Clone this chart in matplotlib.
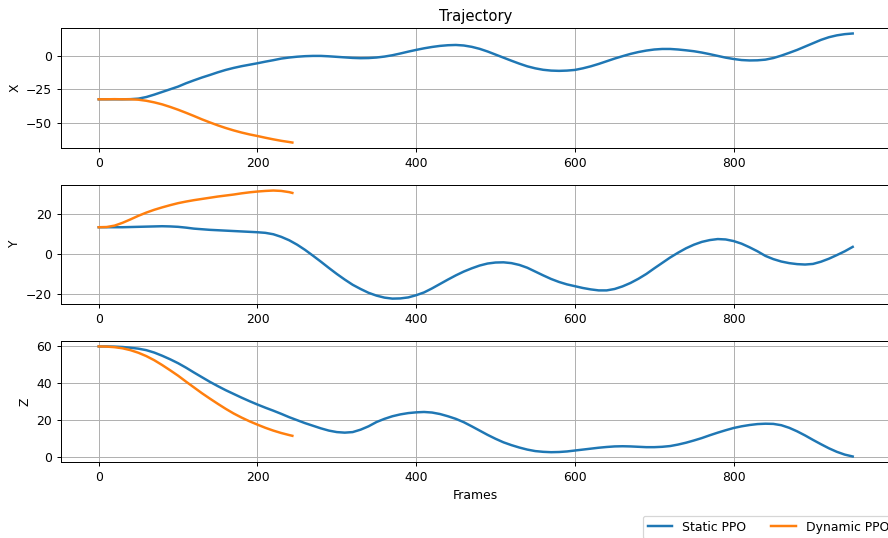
import numpy as np
import matplotlib
matplotlib.use("Agg")
import matplotlib.pyplot as plt

# ----------------------------------------------------------------
# Trajectory samples, one every 10 frames
# ----------------------------------------------------------------
static_frames = list(range(0, 951, 10))
static_x = [-32.5, -32.5, -32.5, -32.5, -32.4, -32.0, -30.8, -29.0, -27.0, -25.0,
            -23.0, -20.5, -18.3, -16.2, -14.3, -12.3, -10.5, -9.0, -7.7, -6.6,
            -5.5, -4.3, -3.2, -2.0, -1.2, -0.6, -0.2, 0.0, 0.0, -0.3,
            -0.7, -1.1, -1.5, -1.7, -1.6, -1.2, -0.5, 0.5, 1.8, 3.2,
            4.5, 5.7, 6.7, 7.5, 8.0, 8.2, 7.8, 6.8, 5.3, 3.3,
            1.0, -1.3, -3.6, -5.8, -7.8, -9.3, -10.4, -11.0, -11.2, -11.0,
            -10.5, -9.3, -7.8, -6.0, -4.0, -2.0, -0.2, 1.5, 2.9, 4.0,
            4.8, 5.2, 5.2, 4.8, 4.2, 3.5, 2.5, 1.3, 0.0, -1.3,
            -2.3, -3.1, -3.4, -3.3, -2.8, -1.6, 0.2, 2.3, 4.5, 7.0,
            9.5, 12.0, 14.0, 15.4, 16.3, 16.8]
static_y = [13.5, 13.5, 13.5, 13.5, 13.6, 13.7, 13.8, 13.9, 14.0, 13.9,
            13.7, 13.3, 12.8, 12.5, 12.2, 12.0, 11.8, 11.6, 11.4, 11.2,
            11.0, 10.7, 10.0, 8.7, 7.0, 4.8, 2.2, -0.7, -3.7, -6.8,
            -9.8, -12.6, -15.2, -17.3, -19.2, -20.6, -21.6, -22.1, -22.0, -21.5,
            -20.4, -19.0, -17.0, -14.8, -12.6, -10.5, -8.6, -7.0, -5.6, -4.6,
            -4.1, -4.0, -4.4, -5.3, -6.7, -8.6, -10.5, -12.3, -13.8, -15.0,
            -15.9, -16.8, -17.5, -18.0, -18.0, -17.3, -16.0, -14.3, -12.2, -9.8,
            -7.0, -4.3, -1.6, 0.8, 3.0, 4.8, 6.2, 7.1, 7.6, 7.4,
            6.6, 5.3, 3.5, 1.5, -0.8, -2.4, -3.6, -4.4, -4.9, -5.1,
            -4.8, -3.7, -2.2, -0.4, 1.5, 3.7]
static_z = [59.5, 59.5, 59.4, 59.2, 58.8, 58.3, 57.5, 56.2, 54.5, 52.6,
            50.5, 48.1, 45.5, 43.0, 40.5, 38.2, 36.0, 34.0, 32.0, 30.1,
            28.3, 26.6, 25.0, 23.3, 21.5, 19.9, 18.3, 16.9, 15.5, 14.3,
            13.5, 13.2, 13.5, 14.8, 16.6, 18.9, 20.6, 22.0, 23.0, 23.7,
            24.1, 24.3, 24.0, 23.2, 22.0, 20.6, 18.8, 16.6, 14.3, 12.0,
            9.9, 8.0, 6.5, 5.2, 4.1, 3.3, 2.9, 2.7, 2.8, 3.1,
            3.6, 4.1, 4.6, 5.1, 5.5, 5.8, 5.9, 5.8, 5.6, 5.4,
            5.4, 5.6, 6.0, 6.8, 7.8, 9.0, 10.3, 11.8, 13.2, 14.5,
            15.7, 16.6, 17.3, 17.8, 18.0, 17.9, 17.2, 15.8, 13.9, 11.7,
            9.3, 7.0, 4.8, 2.9, 1.4, 0.4]

dynamic_frames = list(range(0, 241, 10)) + [244]
dynamic_x = [-32.5, -32.5, -32.4, -32.5, -32.5, -32.8, -33.6, -34.8, -36.3, -38.2,
             -40.3, -42.6, -45.0, -47.5, -49.8, -52.0, -54.0, -55.8, -57.4, -58.8,
             -60.0, -61.3, -62.5, -63.6, -64.5, -64.9]
dynamic_y = [13.5, 13.6, 14.3, 15.7, 17.4, 19.2, 20.8, 22.2, 23.4, 24.5,
             25.5, 26.3, 27.0, 27.6, 28.2, 28.8, 29.3, 29.8, 30.4, 30.9,
             31.3, 31.6, 31.8, 31.6, 31.0, 30.6]
dynamic_z = [59.5, 59.4, 59.1, 58.5, 57.5, 56.1, 54.3, 52.1, 49.5, 46.7,
             43.8, 40.6, 37.5, 34.4, 31.5, 28.7, 26.0, 23.5, 21.3, 19.3,
             17.5, 15.8, 14.3, 13.0, 11.9, 11.5]

labels = ["Static PPO", "Dynamic PPO"]
axis_names = ["X", "Y", "Z"]

# ----------------------------------------------------------------
# Figure (reference looks like a 10in-wide figure shrunk to 888 px)
# ----------------------------------------------------------------
DPI = 88.8
fig = plt.figure(figsize=(888 / DPI, 538 / DPI), dpi=DPI)
rects = [
    [0.0687, 0.7249, 0.934, 0.223],
    [0.0687, 0.4349, 0.934, 0.221],
    [0.0687, 0.1413, 0.934, 0.225],
]

static_series = [static_x, static_y, static_z]
dynamic_series = [dynamic_x, dynamic_y, dynamic_z]

axes = []
for rect, name, s_vals, d_vals in zip(rects, axis_names, static_series, dynamic_series):
    ax = fig.add_axes(rect)
    ax.plot(static_frames, s_vals, color="tab:blue", linewidth=2, label=labels[0])
    ax.plot(dynamic_frames, d_vals, color="tab:orange", linewidth=2, label=labels[1])
    ax.set_ylabel(name)
    ax.grid(True)
    axes.append(ax)

axes[0].set_title("Trajectory")
axes[2].set_xlabel("Frames")

handles, leg_labels = axes[0].get_legend_handles_labels()
fig.legend(handles, leg_labels, ncol=2, loc="upper left",
           bbox_to_anchor=(0.717, 0.053), bbox_transform=fig.transFigure)

fig.savefig("out.png", dpi=DPI)
